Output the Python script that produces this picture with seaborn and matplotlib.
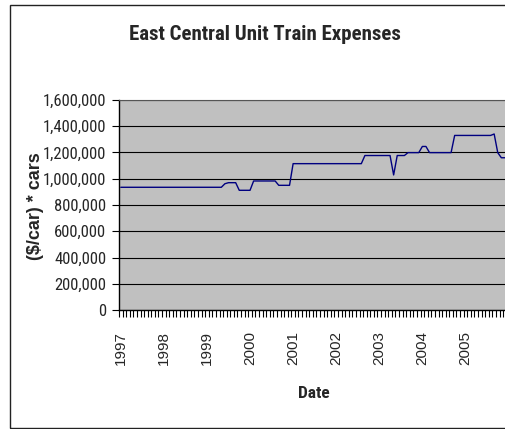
import matplotlib
matplotlib.use("Agg")
import matplotlib.pyplot as plt
from matplotlib.patches import Rectangle
from matplotlib.ticker import FuncFormatter, FixedLocator
import numpy as np
import pandas as pd
import seaborn as sns

# Monthly expenses, ($/car) * cars, January through December of each year
exp_1997 = [935000] * 12
exp_1998 = [935000] * 12
exp_1999 = [935000, 935000, 935000, 935000, 935000, 962000,
            970000, 970000, 970000, 912000, 912000, 912000]
exp_2000 = [912000, 983000, 983000, 983000, 983000, 983000,
            983000, 983000, 950000, 950000, 950000, 950000]
exp_2001 = [1115000] * 12
exp_2002 = [1115000, 1115000, 1115000, 1115000, 1115000, 1115000,
            1115000, 1115000, 1177000, 1177000, 1177000, 1177000]
exp_2003 = [1177000, 1177000, 1177000, 1177000, 1029000, 1177000,
            1177000, 1177000, 1199000, 1199000, 1199000, 1199000]
exp_2004 = [1246000, 1246000, 1199000, 1199000, 1199000, 1199000,
            1199000, 1199000, 1199000, 1330000, 1330000, 1330000]
exp_2005 = [1330000, 1330000, 1330000, 1330000, 1330000, 1330000,
            1330000, 1330000, 1341000, 1199000, 1160000, 1160000]

years = [1997, 1998, 1999, 2000, 2001, 2002, 2003, 2004, 2005]
yearly = [exp_1997, exp_1998, exp_1999, exp_2000, exp_2001,
          exp_2002, exp_2003, exp_2004, exp_2005]
y_ticks = [0, 200000, 400000, 600000, 800000, 1000000, 1200000, 1400000, 1600000]

values = [v for year_vals in yearly for v in year_vals]
df = pd.DataFrame({"month": np.arange(len(values)), "expense": values})

sns.set_style("white")
NARROW = ["Roboto Condensed", "Liberation Sans", "DejaVu Sans"]
WIDE = ["Liberation Sans", "DejaVu Sans"]
plt.rcParams["font.family"] = NARROW

W, H = 506, 429
fig = plt.figure(figsize=(W / 100, H / 100), dpi=100)
fig.patch.set_facecolor("white")

# Outer chart border
fig.patches.append(Rectangle((10 / W, 1 - 428 / H), 510 / W, 423 / H,
                             transform=fig.transFigure, fill=False,
                             edgecolor="#222222", linewidth=1.0, clip_on=False))

n_months = len(values)
px_per_month = 3.59
ax = fig.add_axes([119 / W, (H - 310) / H, n_months * px_per_month / W, 210 / H])
ax.set_facecolor("#C0C0C0")

sns.lineplot(data=df, x="month", y="expense", ax=ax, color="#000080",
             linewidth=1.0, legend=False)

ax.set_xlim(-0.5, n_months - 0.5)
ax.set_ylim(0, 1600000)

# Horizontal gridlines
ax.set_yticks(y_ticks)
ax.yaxis.set_major_formatter(FuncFormatter(lambda v, p: f"{int(v):,}"))
ax.grid(axis="y", color="black", linewidth=0.8)
ax.grid(axis="x", visible=False)
ax.set_axisbelow(True)

ax.tick_params(axis="y", direction="out", length=5, width=0.8, color="black",
               pad=4, labelsize=12, left=True)

# Year labels at each January, monthly tick marks between categories
ax.set_xticks([12 * i for i in range(len(years))])
ax.set_xticklabels([str(y) for y in years], rotation=90,
                   fontfamily=WIDE, fontsize=11)
ax.tick_params(axis="x", which="major", length=0, pad=15)
ax.xaxis.set_minor_locator(FixedLocator(np.arange(n_months + 1) - 0.5))
ax.tick_params(axis="x", which="minor", direction="out", length=5, width=0.8,
               color="black", bottom=True)
for lab in ax.get_xticklabels():
    lab.set_verticalalignment("top")

for side in ["left", "bottom"]:
    ax.spines[side].set_color("black")
    ax.spines[side].set_linewidth(1.0)
ax.spines["top"].set_color("#555555")
ax.spines["top"].set_linewidth(0.8)
ax.spines["right"].set_color("#555555")
ax.set_xlabel("")
ax.set_ylabel("")

fig.text(265 / W, 1 - 35 / H, "East Central Unit Train Expenses",
         ha="center", va="center", fontsize=15, fontweight="bold")
fig.text(35 / W, 1 - 206 / H, "($/car) * cars", rotation=90,
         ha="center", va="center", fontsize=13, fontweight="bold",
         fontfamily=WIDE)
fig.text(314 / W, 1 - 393 / H, "Date", ha="center", va="center",
         fontsize=12.5, fontweight="bold")

fig.savefig("out.png", dpi=100)
